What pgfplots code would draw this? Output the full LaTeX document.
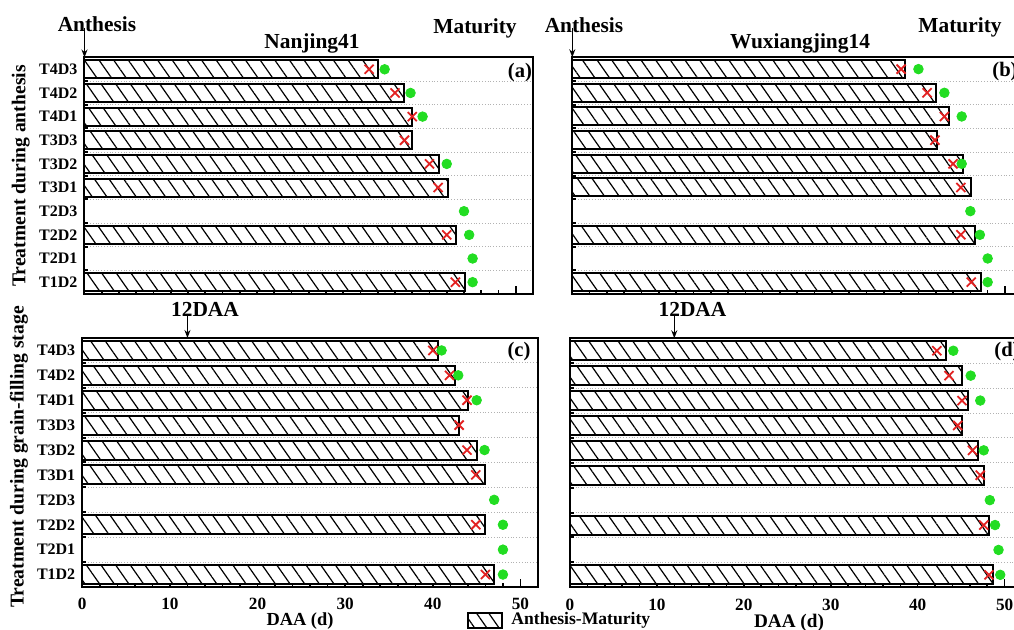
\documentclass[border=0pt]{standalone}
\usepackage{fontspec}
\setmainfont{Liberation Serif}
\usepackage{pgfplots}
\pgfplotsset{compat=1.18}
\usetikzlibrary{patterns.meta,arrows.meta,calc}
\definecolor{xred}{HTML}{E32222}
\definecolor{dgreen}{HTML}{22DD22}
\pgfplotsset{
  panel/.style={
    scale only axis, xmin=0, xmax=52, ymin=0.5, ymax=10.5, y dir=reverse,
    xtick={0,10,...,50}, minor x tick num=4,
    ytick={1,...,10}, minor ytick={0.5,1.5,...,10.5},
    yticklabels={T4D3,T4D2,T4D1,T3D3,T3D2,T3D1,T2D3,T2D2,T2D1,T1D2},
    yminorgrids, minor grid style={densely dotted, black!30, line width=0.4pt},
    tick pos=left, tick align=inside,
    major tick length=4pt, minor tick length=2pt,
    every major y tick/.append style={draw=none},
    every minor y tick/.append style={line width=1pt},
    axis line style={line width=1pt},
    tick style={line width=0.8pt, black},
    tick label style={font=\bfseries\fontsize{8}{9}\selectfont},
    xticklabel style={font=\bfseries\fontsize{8.6}{9}\selectfont, yshift=-2.2pt},
    /pgf/number format/assume math mode=true,
    clip=false,
  },
  bars/.style={xbar, bar width=0.76, draw=black, line width=1pt, fill=white,
    postaction={pattern={Lines[angle=-55,distance=6pt,line width=0.6pt]}}},
  crs/.style={only marks, mark=x, mark size=3.2pt, color=xred, line width=0.9pt},
  dts/.style={only marks, mark=*, mark size=2.4pt, color=dgreen, mark options={draw=dgreen, fill=dgreen}},
}
\begin{document}
\begin{tikzpicture}
\path[use as bounding box] (0pt,0pt) rectangle (507pt,315pt);
\begin{scope}[overlay]
\clip (0pt,0pt) rectangle (507pt,315pt);
% (a) Nanjing41, anthesis
\begin{axis}[panel, name=pa, at={(42.25pt,168pt)}, anchor=south west,
  width=224.25pt, height=118.25pt, xticklabels={}]
\addplot[bars] coordinates {(34.0,1) (37.0,2) (38.0,3) (38.0,4) (41.1,5) (42.1,6) (43.1,8) (44.1,10)};
\addplot[crs] coordinates {(33.0,1) (36.0,2) (38.0,3) (37.1,4) (40.0,5) (41.0,6) (42.0,8) (43.0,10)};
\addplot[dts] coordinates {(34.8,1) (37.8,2) (39.2,3) (42.0,5) (44.0,7) (44.6,8) (45.0,9) (45.0,10)};
\end{axis}
% (b) Wuxiangjing14, anthesis
\begin{axis}[panel, name=pb, at={(286.15pt,168pt)}, anchor=south west,
  width=225pt, height=118.35pt, xticklabels={}, yticklabels={}]
\addplot[bars] coordinates {(38.5,1) (42.0,2) (43.5,3) (42.1,4) (45.1,5) (46.1,6) (46.5,8) (47.2,10)};
\addplot[crs] coordinates {(38.0,1) (41.0,2) (43.0,3) (41.9,4) (44.0,5) (44.9,6) (44.9,8) (46.1,10)};
\addplot[dts] coordinates {(40.0,1) (43.0,2) (45.0,3) (45.0,5) (46.0,7) (47.1,8) (48.0,9) (48.0,10)};
\end{axis}
% (c) Nanjing41, grain filling
\begin{axis}[panel, name=pc, at={(41.15pt,21.5pt)}, anchor=south west,
  width=227.85pt, height=124.5pt]
\addplot[bars] coordinates {(40.6,1) (42.5,2) (44.0,3) (43.0,4) (45.0,5) (46.0,6) (46.0,8) (47.0,10)};
\addplot[crs] coordinates {(40.0,1) (41.9,2) (43.9,3) (43.0,4) (43.9,5) (44.9,6) (44.9,8) (46.0,10)};
\addplot[dts] coordinates {(41.0,1) (42.9,2) (45.0,3) (45.9,5) (47.0,7) (48.0,8) (48.0,9) (48.0,10)};
\end{axis}
% (d) Wuxiangjing14, grain filling
\begin{axis}[panel, name=pd, at={(285pt,21.35pt)}, anchor=south west,
  width=226pt, height=124.5pt, yticklabels={}]
\addplot[bars] coordinates {(43.3,1) (45.1,2) (45.8,3) (45.1,4) (46.9,5) (47.6,6) (48.2,8) (48.7,10)};
\addplot[crs] coordinates {(42.2,1) (43.6,2) (45.1,3) (44.6,4) (46.3,5) (47.2,6) (47.6,8) (48.2,10)};
\addplot[dts] coordinates {(44.1,1) (46.1,2) (47.2,3) (47.6,5) (48.3,7) (48.9,8) (49.3,9) (49.5,10)};
\end{axis}
% annotations
\tikzset{ann/.style={font=\bfseries\fontsize{10.7}{12}\selectfont, inner sep=0pt},
         arr/.style={line width=0.7pt, -{Stealth[length=4pt,width=3pt]}}}
\node[ann] at (48.5pt,303pt) {Anthesis};
\draw[arr] (42.25pt,301pt) -- (42.25pt,286.25pt);
\node[ann] at (156pt,293.5pt) {Nanjing41};
\node[ann] at (237.5pt,301pt) {Maturity};
\node[ann, font=\bfseries\fontsize{10.3}{12}\selectfont] at (260pt,278.5pt) {(a)};
\node[ann] at (292pt,302.5pt) {Anthesis};
\draw[arr] (286.15pt,301pt) -- (286.15pt,286.35pt);
\node[ann] at (400pt,293.5pt) {Wuxiangjing14};
\node[ann] at (480pt,301.5pt) {Maturity};
\node[ann, anchor=west, font=\bfseries\fontsize{10.3}{12}\selectfont] at (496pt,279pt) {(b)};
\node[ann] at (102.5pt,160.5pt) {12DAA};
\draw[arr] (93.73pt,157pt) -- (93.73pt,146pt);
\node[ann, font=\bfseries\fontsize{10.3}{12}\selectfont] at (259.5pt,139pt) {(c)};
\node[ann] at (346.25pt,160.5pt) {12DAA};
\draw[arr] (337.15pt,157pt) -- (337.15pt,145.85pt);
\node[ann, anchor=west, font=\bfseries\fontsize{10.3}{12}\selectfont] at (497pt,139pt) {(d)};
\node[ann, rotate=90, font=\bfseries\fontsize{9.8}{11}\selectfont] at (10.35pt,227pt) {Treatment during anthesis};
\node[ann, rotate=90, font=\bfseries\fontsize{9.8}{11}\selectfont] at (9.5pt,86.5pt) {Treatment during grain-filling stage};
\node[ann, font=\bfseries\fontsize{9.2}{10}\selectfont] at (150pt,4.6pt) {DAA (d)};
\node[ann, font=\bfseries\fontsize{9.6}{10}\selectfont] at (394.5pt,3.6pt) {DAA (d)};
\draw[line width=0.8pt, fill=white, postaction={pattern={Lines[angle=-55,distance=5pt,line width=0.6pt]}}] (233.85pt,0.85pt) rectangle (250.85pt,8.35pt);
\node[ann, anchor=west, font=\bfseries\fontsize{8.8}{10}\selectfont] at (255.5pt,4.8pt) {Anthesis-Maturity};
\end{scope}
\end{tikzpicture}
\end{document}
